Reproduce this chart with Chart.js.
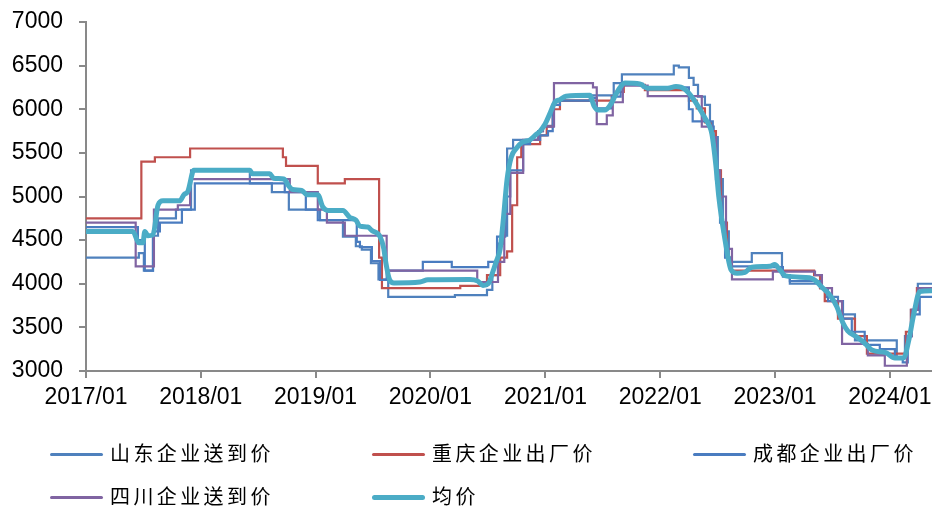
<!DOCTYPE html>
<html>
<head>
<meta charset="utf-8">
<script src="https://cdn.jsdelivr.net/npm/chart.js@4/dist/chart.umd.min.js"></script>
<style>
  body { margin: 0; background: #fff; overflow: hidden; }
  #wrap { position: relative; width: 932px; height: 506px; overflow: hidden; }
  #legend {
    position: absolute; left: 50px; top: 433px;
    display: grid; grid-template-columns: 322px 321px 239px;
    font-family: "Noto Sans CJK SC", sans-serif; font-size: 20px; color: #000;
  }
  .item { display: flex; align-items: center; height: 43px; line-height: 1; white-space: nowrap; }
  .item span.txt { position: relative; top: -2px; letter-spacing: 3.4px; }
  .swatch { width: 53px; margin-right: 7px; border-radius: 3px; }
</style>
</head>
<body>
<div id="wrap">
  <canvas id="priceChart" width="932" height="506"></canvas>
  <div id="legend"></div>
</div>
<script>
// 山东企业送到价
var sdDates = ['2017-01-01','2017-06-18','2017-07-04','2017-08-02','2017-08-18','2017-10-14','2017-12-01',
  '2018-06-06','2018-08-15','2018-10-08','2019-01-15','2019-03-29','2019-05-09','2019-05-28','2019-06-26',
  '2019-07-20','2019-08-20','2020-03-19','2020-06-29','2020-07-16','2020-08-03','2020-08-19','2020-09-01',
  '2020-09-20','2020-12-09','2020-12-24','2021-01-28','2021-05-22','2021-08-06','2021-09-01','2022-02-13',
  '2022-03-01','2022-04-02','2022-04-17','2022-05-01','2022-05-23','2022-06-08','2022-06-20','2022-07-03',
  '2022-07-19','2022-08-07','2022-10-19','2023-01-23','2023-02-17','2023-05-24','2023-06-11','2023-07-20',
  '2023-09-12','2024-01-23','2024-02-18','2024-03-08','2024-03-30','2024-05-14'];
var sdPrices = [4300,4350,4150,4550,4750,4850,5300,
  5150,5050,4850,4730,4540,4430,4390,4235,
  4050,3850,3870,3930,4100,4460,4550,5550,
  5650,5750,5810,6100,6160,6300,6400,6500,
  6480,6360,6280,6145,6050,5800,5680,5200,
  4600,4250,4350,4100,4000,3950,3850,3650,
  3350,3150,3400,3700,4000,4000];

// 重庆企业出厂价
var cqDates = ['2017-01-01','2017-06-26','2017-08-08','2017-11-28','2018-09-19','2018-09-29','2019-01-08',
  '2019-04-04','2019-07-22','2019-07-31','2020-04-05','2020-06-29','2020-08-10','2020-09-01','2020-09-17',
  '2020-10-03','2020-10-16','2020-12-15','2021-01-05','2021-01-24','2021-02-16','2021-07-31','2021-08-13',
  '2021-09-07','2021-11-13','2022-04-02','2022-04-27','2022-05-23','2022-06-14','2022-06-27','2022-07-13',
  '2022-08-01','2022-08-14','2023-05-05','2023-05-24','2023-06-08','2023-07-20','2023-09-12','2023-10-20',
  '2024-02-21','2024-03-08','2024-03-27','2024-05-14'];
var cqPrices = [4750,5400,5450,5550,5450,5350,5150,
  5200,4300,3950,3975,4100,4300,4370,4900,
  5450,5600,5700,5800,6000,6100,6150,6200,
  6280,6220,6100,6010,5850,5750,5300,4700,
  4300,4150,4100,3950,3800,3600,3400,3200,
  3450,3700,3950,3950];

// 成都企业出厂价
var cdDates = ['2017-01-01','2017-06-15','2017-07-07','2017-08-02','2017-08-24','2017-11-02','2017-12-13',
  '2018-09-25','2018-12-01','2019-01-08','2019-05-12','2019-05-22','2019-06-29','2019-07-25','2019-08-15',
  '2019-12-08','2020-03-09','2020-07-03','2020-07-31','2020-08-26','2020-09-11','2020-10-22','2020-11-13',
  '2020-12-15','2021-01-09','2021-01-24','2021-02-16','2021-06-01','2021-06-13','2021-07-31','2021-08-28',
  '2021-11-07','2022-04-02','2022-04-14','2022-06-17','2022-06-27','2022-07-10','2022-07-26','2022-08-14',
  '2022-11-14','2023-01-26','2023-02-17','2023-05-30','2023-06-18','2023-08-05','2023-09-02','2023-10-13',
  '2023-11-30','2024-01-17','2024-02-11','2024-02-27','2024-03-11','2024-04-05','2024-05-14'];
var cdPrices = [4650,4500,4150,4600,4700,4850,5150,
  5050,4850,4730,4480,4420,4260,4043,4150,
  4250,4190,4250,4540,5000,5300,5600,5650,
  5700,5750,6050,6100,6130,6010,6145,6290,
  6250,6000,5860,5600,5200,4700,4300,4200,
  4190,4080,4030,3950,3800,3600,3450,3300,
  3250,3150,3100,3400,3650,3850,3850];

// 四川企业送到价
var scDates = ['2017-01-01','2017-06-08','2017-08-05','2017-10-20','2017-11-28','2018-10-11','2019-01-08',
  '2019-02-06','2019-04-04','2019-08-15','2020-05-29','2020-08-03','2020-08-23','2020-09-11','2020-10-22',
  '2020-12-09','2020-12-24','2021-01-28','2021-06-01','2021-06-13','2021-07-15','2021-08-03','2021-09-04',
  '2021-11-22','2022-05-13','2022-06-14','2022-06-27','2022-07-10','2022-07-29','2022-08-17','2022-12-25',
  '2023-05-08','2023-05-30','2023-07-01','2023-08-02','2023-10-23','2023-12-16','2024-02-24','2024-03-11',
  '2024-03-30','2024-05-14'];
var scPrices = [4700,4200,4850,4900,5200,5050,4850,
  4700,4550,4150,4020,4250,4800,5270,5650,
  5750,5800,6300,6250,5830,5930,6080,6270,
  6150,5800,5680,5300,5000,4400,4050,4140,
  4100,3950,3800,3310,3180,3060,3400,3700,
  3950,3950];

// 均价
var avgDates = ['2017-01-01','2017-05-30','2017-06-18','2017-07-01','2017-07-07','2017-07-17','2017-08-02',
  '2017-08-18','2017-09-03','2017-10-26','2017-11-08','2017-11-21','2017-12-10','2018-06-06','2018-06-15',
  '2018-08-08','2018-08-21','2018-09-22','2018-10-08','2018-10-20','2018-11-18','2018-12-04','2019-01-08',
  '2019-01-24','2019-02-09','2019-03-29','2019-04-20','2019-05-09','2019-05-22','2019-06-16','2019-06-29',
  '2019-07-25','2019-08-06','2019-08-12','2019-08-25','2019-09-07','2019-11-29','2019-12-24','2020-05-06',
  '2020-05-31','2020-06-16','2020-07-03','2020-07-16','2020-07-28','2020-08-10','2020-08-19','2020-09-01',
  '2020-09-14','2020-09-30','2020-10-19','2020-11-13','2020-11-29','2020-12-15','2020-12-31','2021-01-15',
  '2021-01-31','2021-02-16','2021-03-07','2021-05-22','2021-06-04','2021-06-17','2021-07-09','2021-07-28',
  '2021-08-10','2021-08-26','2021-09-11','2021-10-28','2021-11-22','2022-01-25','2022-02-20','2022-03-20',
  '2022-04-14','2022-05-07','2022-05-26','2022-06-14','2022-06-27','2022-07-06','2022-07-26','2022-08-14',
  '2022-09-02','2022-09-27','2022-10-19','2022-12-15','2022-12-31','2023-01-16','2023-02-04','2023-04-21',
  '2023-05-08','2023-05-30','2023-06-24','2023-07-16','2023-08-05','2023-08-20','2023-09-18','2023-10-13',
  '2023-11-05','2023-12-19','2024-01-17','2024-02-14','2024-03-01','2024-03-17','2024-04-05','2024-05-14'];
var avgPrices = [4600,4600,4470,4470,4600,4550,4560,
  4900,4950,4950,5020,5060,5300,5300,5260,
  5260,5210,5200,5120,5080,5070,5020,5020,
  4880,4840,4840,4760,4730,4660,4650,4610,
  4540,4400,4250,4040,4010,4020,4045,4050,
  4030,3980,4000,4120,4250,4400,4700,5200,
  5450,5550,5620,5650,5700,5750,5830,5950,
  6080,6110,6150,6160,6040,5990,5990,6060,
  6150,6250,6300,6290,6240,6240,6260,6230,
  6130,6000,5880,5720,5350,5000,4500,4160,
  4120,4130,4190,4200,4220,4160,4090,4070,
  4040,3960,3870,3740,3550,3460,3390,3320,
  3240,3210,3150,3150,3350,3650,3910,3920];

var tickYears = ['2017','2018','2019','2020','2021','2022','2023','2024'];
var tickLabels = ['2017/01','2018/01','2019/01','2020/01','2021/01','2022/01','2023/01','2024/01'];

function toPoints(dates, values) {
  return dates.map(function (d, i) { return { x: Date.parse(d), y: values[i] }; });
}

function stepLine(label, dates, values, color, order) {
  return {
    label: label,
    data: toPoints(dates, values),
    borderColor: color,
    backgroundColor: color,
    borderWidth: 2.2,
    pointRadius: 0,
    stepped: 'before',
    order: order
  };
}

var axisColor = '#898989';
var tickFont = { family: '"Liberation Sans", Arial, sans-serif', size: 23 };

var ctx = document.getElementById('priceChart');
var myChart = new Chart(ctx, {
  type: 'line',
  data: {
    datasets: [
      stepLine('山东企业送到价', sdDates, sdPrices, '#4F81BD', 0),
      stepLine('重庆企业出厂价', cqDates, cqPrices, '#C0504D', -1),
      stepLine('成都企业出厂价', cdDates, cdPrices, '#4A7CC0', -2),
      stepLine('四川企业送到价', scDates, scPrices, '#8064A2', -3),
      {
        label: '均价',
        data: toPoints(avgDates, avgPrices),
        borderColor: '#4BACC6',
        backgroundColor: '#4BACC6',
        borderWidth: 5,
        pointRadius: 0,
        cubicInterpolationMode: 'monotone',
        order: -4
      }
    ]
  },
  options: {
    responsive: false,
    animation: false,
    layout: { padding: { top: 22, right: 0, bottom: 100, left: 0 } },
    plugins: { legend: { display: false }, tooltip: { enabled: false } },
    scales: {
      x: {
        type: 'linear',
        min: Date.parse('2017-01-01'),
        max: Date.parse('2024-05-14'),
        afterBuildTicks: function (scale) {
          scale.ticks = tickYears.map(function (y) { return { value: Date.parse(y + '-01-01') }; });
        },
        afterFit: function (scale) {
          scale.height = 35;
          scale.paddingLeft = 0;
          scale.paddingRight = 0;
        },
        ticks: {
          autoSkip: false,
          maxRotation: 0,
          padding: 6,
          color: '#000',
          font: tickFont,
          callback: function (value, index) { return tickLabels[index]; }
        },
        grid: { drawOnChartArea: false, drawTicks: true, tickLength: 7, color: axisColor, lineWidth: 2 },
        border: { display: true, color: axisColor, width: 2 }
      },
      y: {
        min: 3000,
        max: 7000,
        afterFit: function (scale) {
          scale.width = 86;
          scale.paddingTop = 0;
          scale.paddingBottom = 0;
        },
        ticks: {
          stepSize: 500,
          padding: 16,
          color: '#000',
          font: tickFont,
          callback: function (value) { return String(value); }
        },
        grid: { drawOnChartArea: false, drawTicks: true, tickLength: 7, color: axisColor, lineWidth: 2 },
        border: { display: true, color: axisColor, width: 2 }
      }
    }
  }
});

// legend laid out in three columns under the plot
var legendBox = document.getElementById('legend');
myChart.data.datasets.forEach(function (ds) {
  var item = document.createElement('div');
  item.className = 'item';
  var sw = document.createElement('span');
  sw.className = 'swatch';
  sw.style.height = (ds.borderWidth > 3 ? 5 : 3) + 'px';
  sw.style.background = ds.borderColor;
  var txt = document.createElement('span');
  txt.className = 'txt';
  txt.textContent = ds.label;
  item.appendChild(sw);
  item.appendChild(txt);
  legendBox.appendChild(item);
});
</script>
</body>
</html>
